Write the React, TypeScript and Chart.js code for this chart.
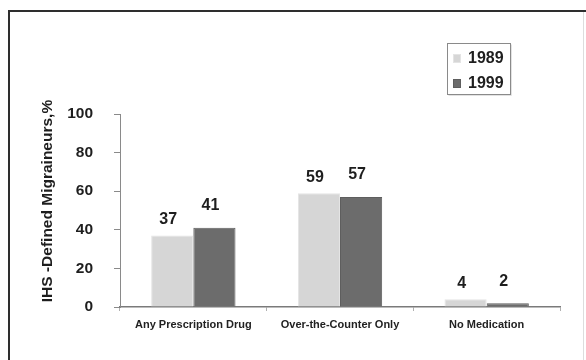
import React, { useEffect, useRef } from "react";
import { Chart, registerables } from "chart.js";

Chart.register(...registerables);

const categories = ["Any Prescription Drug", "Over-the-Counter Only", "No Medication"];
const seriesNames = ["1989", "1999"];
const values1989 = [37, 59, 4];
const values1999 = [41, 57, 2];
const yMin = 0;
const yMax = 100;
const yStep = 20;
const yTitle = "IHS -Defined Migraineurs,%";

const FONT = "'Liberation Sans', Arial, sans-serif";
const lightFill = "#d6d6d6";
const lightBorder = "#e4e4e4";
const darkFill = "#6c6c6c";
const darkBorder = "#5e5e5e";
const labelOffsets = [16, 22];

const framePlugin = {
  id: "frame",
  beforeDraw(chart: any) {
    const ctx = chart.ctx;
    ctx.save();
    ctx.fillStyle = "#ffffff";
    ctx.fillRect(0, 0, chart.width, chart.height);
    ctx.strokeStyle = "#2e2e2e";
    ctx.lineWidth = 2;
    ctx.beginPath();
    ctx.moveTo(9, chart.height);
    ctx.lineTo(9, 11);
    ctx.lineTo(chart.width, 11);
    ctx.stroke();
    ctx.strokeStyle = "#dddddd";
    ctx.lineWidth = 1;
    ctx.beginPath();
    ctx.moveTo(583.5, 12);
    ctx.lineTo(583.5, chart.height);
    ctx.stroke();
    ctx.restore();
  },
};

const yTitlePlugin = {
  id: "yTitle",
  afterDraw(chart: any) {
    const ctx = chart.ctx;
    ctx.save();
    ctx.translate(48, 201);
    ctx.rotate(-Math.PI / 2);
    ctx.fillStyle = "#1e1e1e";
    ctx.font = `bold 15.5px ${FONT}`;
    ctx.textAlign = "center";
    ctx.textBaseline = "middle";
    ctx.fillText(yTitle, 0, 0);
    ctx.restore();
  },
};

const valueLabelPlugin = {
  id: "valueLabels",
  afterDatasetsDraw(chart: any) {
    const ctx = chart.ctx;
    ctx.save();
    ctx.fillStyle = "#1e1e1e";
    ctx.font = `bold 16px ${FONT}`;
    ctx.textAlign = "center";
    ctx.textBaseline = "middle";
    chart.data.datasets.forEach((ds: any, di: number) => {
      const meta = chart.getDatasetMeta(di);
      meta.data.forEach((bar: any, i: number) => {
        ctx.fillText(String(ds.data[i]), bar.x - 4, bar.y - labelOffsets[di]);
      });
    });
    ctx.restore();
  },
};

const legendPlugin = {
  id: "boxLegend",
  afterDraw(chart: any) {
    const ctx = chart.ctx;
    ctx.save();
    const x = 447.5, y = 43.5, w = 63, h = 51;
    ctx.strokeStyle = "#8a8a8a";
    ctx.lineWidth = 1;
    ctx.strokeRect(x, y, w, h);
    ctx.strokeStyle = "#e2e2e2";
    ctx.beginPath();
    ctx.moveTo(x + 1, y + h + 1);
    ctx.lineTo(x + w + 1, y + h + 1);
    ctx.lineTo(x + w + 1, y + 1);
    ctx.stroke();
    ctx.font = `bold 16px ${FONT}`;
    ctx.textBaseline = "middle";
    ctx.textAlign = "left";
    chart.data.datasets.forEach((ds: any, di: number) => {
      const cy = 58 + di * 25;
      ctx.fillStyle = ds.backgroundColor;
      ctx.fillRect(453, cy - 4, 8, 9);
      ctx.strokeStyle = ds.borderColor;
      ctx.strokeRect(453.5, cy - 3.5, 7, 8);
      ctx.fillStyle = "#1e1e1e";
      ctx.fillText(ds.label, 468, cy + 1);
    });
    ctx.restore();
  },
};

export default function App() {
  const ref = useRef<HTMLCanvasElement | null>(null);

  useEffect(() => {
    if (!ref.current) return;
    const chart = new Chart(ref.current, {
      type: "bar",
      data: {
        labels: categories,
        datasets: [
          {
            label: seriesNames[0],
            data: values1989,
            backgroundColor: lightFill,
            borderColor: lightBorder,
            borderWidth: 1,
          },
          {
            label: seriesNames[1],
            data: values1999,
            backgroundColor: darkFill,
            borderColor: darkBorder,
            borderWidth: 1,
          },
        ],
      },
      options: {
        animation: false,
        responsive: false,
        maintainAspectRatio: false,
        layout: { padding: { top: 114, right: 26, left: 0, bottom: 0 } },
        plugins: {
          legend: { display: false },
          tooltip: { enabled: false },
        },
        datasets: {
          bar: { categoryPercentage: 0.575, barPercentage: 1 },
        },
        scales: {
          x: {
            afterFit: (s: any) => {
              s.height = 53;
            },
            border: { display: true, color: "#7a7a7a", width: 1.5 },
            grid: {
              display: true,
              drawOnChartArea: false,
              drawTicks: true,
              tickLength: 4,
              color: "#b0b0b0",
            },
            ticks: {
              color: "#222222",
              font: { family: FONT, size: 11, weight: "bold" },
              padding: 7,
              maxRotation: 0,
            },
          },
          y: {
            min: yMin,
            max: yMax,
            afterFit: (s: any) => {
              s.width = 120;
            },
            border: { display: true, color: "#8a8a8a", width: 1 },
            grid: {
              display: true,
              drawOnChartArea: false,
              drawTicks: true,
              tickLength: 6,
              color: "#8a8a8a",
            },
            ticks: {
              stepSize: yStep,
              color: "#1e1e1e",
              font: { family: FONT, size: 15.5, weight: "bold" },
              padding: 21,
            },
            title: { display: false },
          },
        },
      },
      plugins: [framePlugin, valueLabelPlugin, legendPlugin, yTitlePlugin],
    });
    return () => chart.destroy();
  }, []);

  return (
    <div style={{ position: "fixed", left: 0, top: 0, width: 586, height: 360, background: "#fff" }}>
      <canvas ref={ref} width={586} height={360} style={{ display: "block", width: 586, height: 360 }} />
    </div>
  );
}
